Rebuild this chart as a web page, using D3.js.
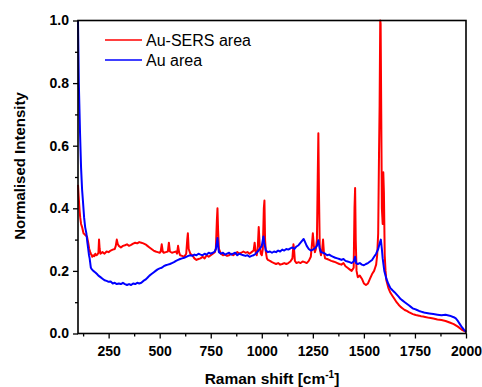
<!DOCTYPE html>
<html>
<head>
<meta charset="utf-8">
<script src="https://cdn.jsdelivr.net/npm/d3@7"></script>
<style>
  body { margin: 0; background: #fff; }
  svg { display: block; font-family: "Liberation Sans", Arial, sans-serif; }
</style>
</head>
<body>
<div id="chart"></div>
<script>
// Au-SERS area spectrum [Raman shift, normalised intensity]
const sersArea = [
  [100, 0.475], [103, 0.44], [105, 0.42], [108, 0.39], [111, 0.37], [115, 0.35], [120, 0.34],
  [127, 0.32], [131, 0.318], [135, 0.315], [140, 0.312], [144, 0.31], [147, 0.30], [150, 0.29],
  [155, 0.27], [160, 0.26], [163, 0.255], [167, 0.25], [170, 0.245], [175, 0.25], [180, 0.247],
  [185, 0.255], [190, 0.25], [195, 0.252],
  [200, 0.258], [203, 0.30], [206, 0.27], [210, 0.255], [220, 0.26], [230, 0.255], [240, 0.262],
  [250, 0.26], [260, 0.265], [270, 0.268], [280, 0.27], [285, 0.28], [290, 0.30], [295, 0.285],
  [300, 0.28], [310, 0.275], [320, 0.28], [330, 0.282], [340, 0.285], [350, 0.28], [360, 0.283],
  [370, 0.287], [380, 0.29], [390, 0.288], [400, 0.292], [410, 0.29], [420, 0.288], [430, 0.285],
  [440, 0.28], [450, 0.275], [460, 0.27], [470, 0.265], [480, 0.262], [490, 0.26], [500, 0.258],
  [505, 0.262], [510, 0.285], [515, 0.262], [520, 0.258], [530, 0.26], [540, 0.262], [545, 0.29],
  [550, 0.262], [560, 0.258], [570, 0.26], [580, 0.262], [585, 0.255], [590, 0.28], [595, 0.26],
  [600, 0.25], [610, 0.248], [620, 0.245], [630, 0.255], [635, 0.30], [638, 0.32], [642, 0.27],
  [650, 0.255], [660, 0.25], [670, 0.24], [680, 0.235], [690, 0.238], [700, 0.24], [710, 0.245],
  [720, 0.24], [730, 0.25], [740, 0.245], [750, 0.25], [760, 0.255], [770, 0.26], [775, 0.27],
  [780, 0.36], [783, 0.40], [786, 0.33], [790, 0.27], [800, 0.255], [810, 0.25], [820, 0.252],
  [830, 0.248], [840, 0.25], [850, 0.255], [860, 0.25], [870, 0.255], [880, 0.26], [890, 0.255],
  [900, 0.258], [910, 0.262], [920, 0.258], [930, 0.26], [940, 0.255], [950, 0.26], [960, 0.265],
  [965, 0.29], [970, 0.26], [975, 0.25], [980, 0.27], [985, 0.34], [990, 0.28], [995, 0.255],
  [1000, 0.25], [1005, 0.27], [1010, 0.40], [1013, 0.425], [1016, 0.30], [1020, 0.26], [1025, 0.24],
  [1030, 0.235], [1040, 0.232], [1050, 0.228], [1060, 0.225], [1070, 0.222], [1080, 0.225],
  [1090, 0.22], [1100, 0.222], [1110, 0.225], [1120, 0.222], [1130, 0.225], [1140, 0.23],
  [1150, 0.24], [1155, 0.285], [1158, 0.27], [1162, 0.232], [1170, 0.225], [1180, 0.228],
  [1190, 0.225], [1200, 0.23], [1210, 0.228], [1220, 0.225], [1230, 0.232], [1240, 0.245],
  [1245, 0.28], [1250, 0.32], [1255, 0.28], [1260, 0.26], [1265, 0.27], [1270, 0.30], [1274, 0.50],
  [1277, 0.64], [1280, 0.45], [1284, 0.27], [1290, 0.25], [1296, 0.27], [1300, 0.30], [1304, 0.26],
  [1310, 0.24], [1320, 0.238], [1330, 0.235], [1340, 0.232], [1350, 0.23], [1360, 0.228],
  [1370, 0.225], [1380, 0.222], [1390, 0.22], [1400, 0.225], [1410, 0.215], [1420, 0.21],
  [1430, 0.205], [1440, 0.20], [1450, 0.21], [1454, 0.40], [1457, 0.465], [1460, 0.30], [1464, 0.20],
  [1470, 0.18], [1480, 0.185], [1490, 0.175], [1500, 0.16], [1510, 0.155], [1520, 0.16],
  [1530, 0.175], [1540, 0.19], [1550, 0.20], [1555, 0.21], [1560, 0.22], [1565, 0.25], [1570, 0.32],
  [1574, 0.57], [1577, 0.73], [1580, 1.0], [1582, 0.99], [1585, 0.70], [1588, 0.40], [1592, 0.35],
  [1595, 0.515], [1598, 0.45], [1602, 0.25], [1606, 0.20], [1610, 0.17], [1620, 0.145], [1630, 0.13],
  [1640, 0.12], [1650, 0.11], [1660, 0.10], [1670, 0.092], [1680, 0.085], [1690, 0.08], [1700, 0.075],
  [1710, 0.072], [1720, 0.068], [1730, 0.065], [1740, 0.062], [1750, 0.06], [1760, 0.058],
  [1770, 0.057], [1780, 0.055], [1790, 0.054], [1800, 0.053], [1820, 0.05], [1840, 0.048],
  [1860, 0.045], [1880, 0.043], [1900, 0.04], [1920, 0.035], [1940, 0.03], [1960, 0.022],
  [1980, 0.012], [2000, 0.005]
];

// Au area spectrum
const auArea = [
  [100, 1.0], [102, 0.9], [104, 0.8], [107, 0.72], [110, 0.64], [115, 0.53], [120, 0.46],
  [124, 0.425], [130, 0.37], [135, 0.34], [141, 0.32], [146, 0.29], [150, 0.27], [154, 0.25],
  [157, 0.24], [160, 0.225], [163, 0.21], [168, 0.205], [175, 0.20], [185, 0.195], [193, 0.19],
  [200, 0.185], [210, 0.18], [220, 0.175], [230, 0.17], [240, 0.168], [250, 0.165], [260, 0.166],
  [270, 0.16], [280, 0.162], [290, 0.158], [300, 0.16], [310, 0.158], [320, 0.162], [330, 0.158],
  [340, 0.155], [350, 0.158], [360, 0.155], [370, 0.16], [380, 0.158], [390, 0.162], [400, 0.16],
  [410, 0.162], [420, 0.168], [430, 0.172], [440, 0.178], [450, 0.185], [460, 0.19], [470, 0.195],
  [480, 0.20], [490, 0.205], [500, 0.208], [510, 0.21], [520, 0.215], [530, 0.218], [540, 0.22],
  [550, 0.222], [560, 0.225], [570, 0.228], [580, 0.232], [590, 0.235], [600, 0.238], [610, 0.24],
  [620, 0.242], [630, 0.245], [640, 0.248], [650, 0.25], [660, 0.248], [670, 0.252], [680, 0.25],
  [690, 0.255], [700, 0.252], [710, 0.25], [720, 0.255], [730, 0.252], [740, 0.258], [750, 0.255],
  [760, 0.258], [770, 0.262], [775, 0.27], [780, 0.29], [783, 0.305], [786, 0.28], [790, 0.26],
  [800, 0.255], [810, 0.258], [820, 0.252], [830, 0.255], [840, 0.258], [850, 0.252], [860, 0.255],
  [870, 0.258], [880, 0.25], [890, 0.255], [900, 0.252], [910, 0.25], [920, 0.248], [930, 0.25],
  [940, 0.245], [950, 0.248], [960, 0.25], [970, 0.255], [980, 0.262], [990, 0.27], [1000, 0.28],
  [1008, 0.31], [1012, 0.29], [1020, 0.265], [1030, 0.26], [1040, 0.262], [1050, 0.258],
  [1060, 0.262], [1070, 0.26], [1080, 0.265], [1090, 0.262], [1100, 0.268], [1110, 0.265],
  [1120, 0.27], [1130, 0.268], [1140, 0.272], [1150, 0.275], [1160, 0.27], [1170, 0.278],
  [1180, 0.282], [1190, 0.29], [1200, 0.298], [1205, 0.302], [1210, 0.295], [1220, 0.28],
  [1230, 0.27], [1240, 0.265], [1250, 0.268], [1260, 0.272], [1270, 0.28], [1277, 0.298],
  [1283, 0.275], [1290, 0.26], [1300, 0.258], [1310, 0.255], [1320, 0.25], [1330, 0.252],
  [1340, 0.248], [1350, 0.245], [1360, 0.242], [1370, 0.24], [1380, 0.238], [1390, 0.235],
  [1400, 0.238], [1410, 0.232], [1420, 0.23], [1430, 0.228], [1440, 0.225], [1450, 0.23],
  [1457, 0.245], [1462, 0.225], [1470, 0.222], [1480, 0.225], [1490, 0.22], [1500, 0.218],
  [1510, 0.222], [1520, 0.225], [1530, 0.23], [1540, 0.235], [1550, 0.245], [1560, 0.255],
  [1570, 0.27], [1578, 0.29], [1583, 0.30], [1588, 0.27], [1592, 0.24], [1600, 0.20], [1610, 0.175],
  [1620, 0.158], [1630, 0.145], [1640, 0.138], [1650, 0.132], [1660, 0.125], [1670, 0.118],
  [1680, 0.11], [1690, 0.105], [1700, 0.10], [1710, 0.095], [1720, 0.09], [1730, 0.085],
  [1740, 0.08], [1750, 0.078], [1760, 0.075], [1770, 0.072], [1780, 0.07], [1790, 0.068],
  [1800, 0.066], [1820, 0.064], [1840, 0.062], [1860, 0.06], [1880, 0.058], [1900, 0.06],
  [1920, 0.057], [1940, 0.052], [1950, 0.048], [1960, 0.04], [1970, 0.03], [1980, 0.02],
  [1990, 0.012], [2000, 0.005]
];

const xTicks = [250, 500, 750, 1000, 1250, 1500, 1750, 2000];
const xMinorTicks = [125, 375, 625, 875, 1125, 1375, 1625, 1875];
const yTicks = [0, 0.2, 0.4, 0.6, 0.8, 1.0];
const yMinorTicks = [0.1, 0.3, 0.5, 0.7, 0.9];

const series = [
  { name: 'Au-SERS area', color: '#ff0000', values: sersArea },
  { name: 'Au area', color: '#0000ff', values: auArea }
];

const W = 482, H = 387;
const margin = { top: 20.5, right: 16, bottom: 53.5, left: 78 };
const width = W - margin.left - margin.right;
const height = H - margin.top - margin.bottom;

const svg = d3.select('#chart').append('svg').attr('width', W).attr('height', H);
const g = svg.append('g').attr('transform', `translate(${margin.left},${margin.top})`);

const x = d3.scaleLinear().domain([100, 2000]).range([0, width]);
const y = d3.scaleLinear().domain([0, 1]).range([height, 0]);

// Lines
const line = d3.line().x((d) => x(d[0])).y((d) => y(d[1]));
g.append('g')
  .selectAll('path')
  .data(series)
  .enter()
  .append('path')
  .attr('d', (d) => line(d.values))
  .attr('fill', 'none')
  .attr('stroke', (d) => d.color)
  .attr('stroke-width', 2)
  .attr('stroke-linejoin', 'round');

// Axes
g.append('g')
  .attr('transform', `translate(0,${height})`)
  .call(d3.axisBottom(x).tickValues(xTicks).tickSizeInner(5).tickSizeOuter(0).tickPadding(8)
    .tickFormat(d3.format('d')));
g.append('g')
  .attr('transform', `translate(0,${height})`)
  .call(d3.axisBottom(x).tickValues(xMinorTicks).tickSize(3).tickFormat(''))
  .select('.domain').remove();

g.append('g')
  .call(d3.axisLeft(y).tickValues(yTicks).tickSizeInner(5).tickSizeOuter(0).tickPadding(4)
    .tickFormat(d3.format('.1f')));
g.append('g')
  .call(d3.axisLeft(y).tickValues(yMinorTicks).tickSize(3).tickFormat(''))
  .select('.domain').remove();

g.selectAll('.domain').remove();
g.selectAll('.tick line').attr('stroke', '#000').attr('stroke-width', 1.3);
g.selectAll('.tick text')
  .attr('fill', '#000')
  .attr('font-size', '14px')
  .attr('font-weight', 'bold')
  .attr('font-family', '"Liberation Sans", Arial, sans-serif');

// Frame box on top of the lines
g.append('rect')
  .attr('x', 0).attr('y', 0)
  .attr('width', width).attr('height', height)
  .attr('fill', 'none')
  .attr('stroke', '#000')
  .attr('stroke-width', 1.6);

// Axis titles
const xTitle = svg.append('text')
  .attr('x', margin.left + width / 2)
  .attr('y', 384)
  .attr('text-anchor', 'middle')
  .attr('font-size', '15.5px')
  .attr('font-weight', 'bold')
  .attr('fill', '#000');
xTitle.append('tspan').text('Raman shift [cm');
xTitle.append('tspan').attr('font-size', '10px').attr('dy', -6).text('-1');
xTitle.append('tspan').attr('dy', 6).text(']');

svg.append('text')
  .attr('transform', 'rotate(-90)')
  .attr('x', -166)
  .attr('y', 25)
  .attr('text-anchor', 'middle')
  .attr('font-size', '15px')
  .attr('font-weight', 'bold')
  .attr('fill', '#000')
  .text('Normalised Intensity');

// Legend
const legend = svg.append('g');
series.forEach((s, i) => {
  const ly = 40 + i * 20;
  legend.append('line')
    .attr('x1', 105).attr('x2', 142)
    .attr('y1', ly).attr('y2', ly)
    .attr('stroke', s.color)
    .attr('stroke-width', 1.5);
  legend.append('text')
    .attr('x', 146)
    .attr('y', ly + 6)
    .attr('font-size', '16px')
    .attr('fill', '#000')
    .text(s.name);
});
</script>
</body>
</html>
